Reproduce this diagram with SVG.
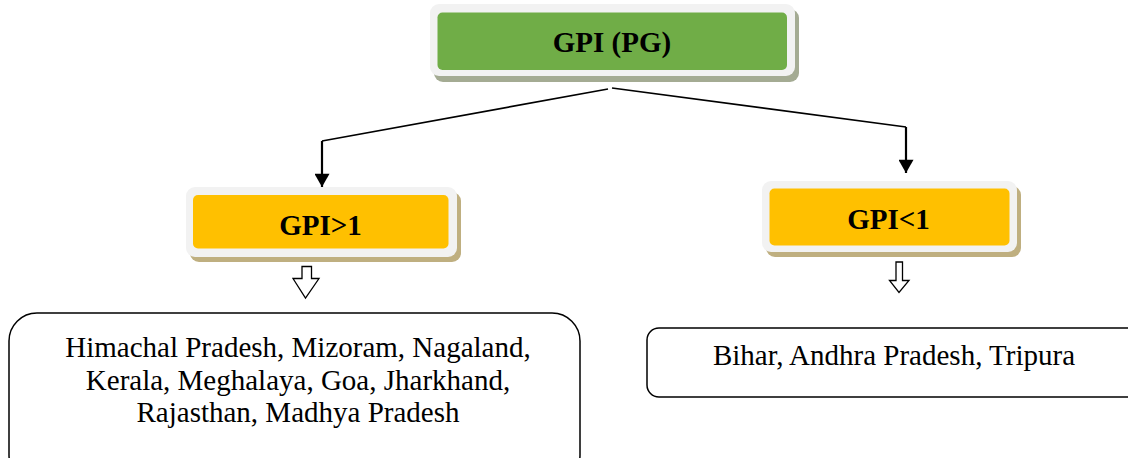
<svg xmlns="http://www.w3.org/2000/svg" width="1128" height="458" viewBox="0 0 1128 458">
<style>
.frame{fill:#f2f2f2}
.bold{font-family:"Liberation Serif","Times New Roman",serif;font-weight:bold;font-size:29px;text-anchor:middle;fill:#000}
.reg{font-family:"Liberation Serif","Times New Roman",serif;font-size:29px;text-anchor:middle;fill:#000}
.box{fill:#fff;stroke:#000;stroke-width:1.5}
.conn{fill:none;stroke:#000}
.hollow{fill:#fff;stroke:#000;stroke-width:1.3;stroke-linejoin:miter}
</style>
<defs>
<marker id="ah" markerWidth="17" markerHeight="15" refX="15" refY="8.5" orient="auto" markerUnits="userSpaceOnUse" viewBox="0 0 15 17">
<path d="M0,0 L15,8.5 L0,17 Z" fill="#000"/>
</marker>
</defs>
<rect width="1128" height="458" fill="#fff"/>
<g id="connectors">
<polyline class="conn" stroke-width="1.6" points="608,89 322,141"/>
<line class="conn" stroke-width="2.2" x1="322" y1="141" x2="322" y2="187" marker-end="url(#ah)"/>
<polyline class="conn" stroke-width="1.6" points="612,88 906,127"/>
<line class="conn" stroke-width="2.2" x1="906" y1="127" x2="906" y2="173" marker-end="url(#ah)"/>
<path class="hollow" d="M302,266.5 H311.5 V278.5 H319 L305.5,298 L293,278.5 H302 Z"/>
<path class="hollow" d="M896,262 H902.5 V280.5 H909 L899,292.5 L889.5,280.5 H896 Z"/>
</g>
<g id="gpi-pg">
<rect x="434" y="9" width="365" height="73" rx="9" fill="#a4ab93"/>
<rect class="frame" x="430" y="4" width="365" height="72" rx="9"/>
<rect x="437.5" y="12.5" width="349.5" height="57.5" rx="5" fill="#70ad47"/>
<text class="bold" x="612" y="52">GPI (PG)</text>
</g>
<g id="gpi-gt1">
<rect x="190" y="192" width="271" height="70" rx="9" fill="#bfaf80"/>
<rect class="frame" x="186" y="187" width="271" height="70" rx="9"/>
<rect x="193" y="195" width="255.5" height="53.5" rx="5" fill="#ffc000"/>
<text class="bold" x="320.5" y="235">GPI&gt;1</text>
</g>
<g id="gpi-lt1">
<rect x="766" y="186" width="255" height="71" rx="9" fill="#bfaf80"/>
<rect class="frame" x="762" y="181" width="255" height="71" rx="9"/>
<rect x="769.5" y="188.5" width="240" height="57" rx="5" fill="#ffc000"/>
<text class="bold" x="888.5" y="228.5">GPI&lt;1</text>
</g>
<g id="states-gt1">
<rect class="box" x="9" y="313" width="571" height="170" rx="28"/>
<text class="reg" x="298" y="357">Himachal Pradesh, Mizoram, Nagaland,</text>
<text class="reg" x="298" y="389.5">Kerala, Meghalaya, Goa, Jharkhand,</text>
<text class="reg" x="298" y="422">Rajasthan, Madhya Pradesh</text>
</g>
<g id="states-lt1">
<rect class="box" x="647" y="328" width="500" height="69" rx="12"/>
<text class="reg" x="894" y="365">Bihar, Andhra Pradesh, Tripura</text>
</g>
</svg>
